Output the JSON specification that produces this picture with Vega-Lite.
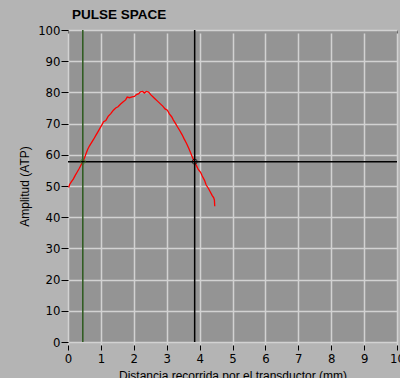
{
  "$schema": "https://vega.github.io/schema/vega-lite/v6.json",
  "width": 329,
  "height": 312,
  "autosize": {"type": "none"},
  "padding": {"left": 68, "top": 30, "right": 3, "bottom": 36},
  "background": "#b4b4b4",
  "title": {
    "text": "PULSE SPACE",
    "anchor": "start",
    "frame": "group",
    "offset": 3,
    "dx": 4,
    "font": "Liberation Sans",
    "fontSize": 13.5,
    "fontWeight": "bold",
    "color": "#000000"
  },
  "config": {
    "view": {"fill": "#949494", "stroke": "#6a6a6a", "strokeWidth": 1},
    "axis": {
      "labelFont": "Liberation Sans Narrow, DejaVu Sans Condensed, Liberation Sans",
      "labelFontSize": 13,
      "labelColor": "#000000",
      "labelOverlap": false,
      "labelFlush": false,
      "titleFont": "Liberation Sans",
      "titleFontSize": 12,
      "titleFontWeight": "normal",
      "titleColor": "#000000",
      "gridColor": "#d2d2d2",
      "gridWidth": 1.5,
      "gridOpacity": 1,
      "tickColor": "#000000",
      "domain": false
    },
    "axisX": {"tickSize": 5, "offset": 3, "labelPadding": 2, "titlePadding": 5},
    "axisY": {"tickSize": 7, "labelPadding": 1, "titlePadding": 6}
  },
  "datasets": {
    "pulse": [
      {"d": 0.02, "a": 49.5}, {"d": 0.05, "a": 50.5}, {"d": 0.1, "a": 51.3},
      {"d": 0.16, "a": 52.2}, {"d": 0.22, "a": 53.4}, {"d": 0.28, "a": 54.5},
      {"d": 0.34, "a": 55.6}, {"d": 0.4, "a": 56.8}, {"d": 0.45, "a": 57.8},
      {"d": 0.5, "a": 59.0}, {"d": 0.55, "a": 60.4}, {"d": 0.6, "a": 61.8},
      {"d": 0.65, "a": 62.8}, {"d": 0.72, "a": 64.0}, {"d": 0.78, "a": 65.0},
      {"d": 0.85, "a": 66.3}, {"d": 0.9, "a": 67.2}, {"d": 0.96, "a": 68.3},
      {"d": 1.03, "a": 69.6}, {"d": 1.08, "a": 70.6}, {"d": 1.15, "a": 71.0},
      {"d": 1.22, "a": 72.3}, {"d": 1.3, "a": 73.2}, {"d": 1.38, "a": 74.3},
      {"d": 1.45, "a": 75.0}, {"d": 1.52, "a": 75.4}, {"d": 1.6, "a": 76.3},
      {"d": 1.68, "a": 77.0}, {"d": 1.75, "a": 77.6}, {"d": 1.8, "a": 78.5},
      {"d": 1.87, "a": 78.3}, {"d": 1.95, "a": 78.6}, {"d": 2.02, "a": 78.7},
      {"d": 2.08, "a": 79.3}, {"d": 2.15, "a": 79.6}, {"d": 2.2, "a": 80.2},
      {"d": 2.27, "a": 80.3}, {"d": 2.32, "a": 79.8}, {"d": 2.38, "a": 80.3},
      {"d": 2.45, "a": 80.1}, {"d": 2.52, "a": 79.2}, {"d": 2.58, "a": 78.6},
      {"d": 2.65, "a": 77.9}, {"d": 2.72, "a": 77.2}, {"d": 2.8, "a": 76.4},
      {"d": 2.88, "a": 75.6}, {"d": 2.95, "a": 74.7}, {"d": 3.02, "a": 74.3},
      {"d": 3.08, "a": 73.1}, {"d": 3.15, "a": 72.2}, {"d": 3.2, "a": 71.2},
      {"d": 3.27, "a": 70.0}, {"d": 3.33, "a": 68.9}, {"d": 3.4, "a": 67.7},
      {"d": 3.47, "a": 66.4}, {"d": 3.53, "a": 65.1}, {"d": 3.6, "a": 63.7},
      {"d": 3.67, "a": 62.1}, {"d": 3.73, "a": 60.6}, {"d": 3.79, "a": 59.0},
      {"d": 3.85, "a": 57.8}, {"d": 3.9, "a": 56.6}, {"d": 3.96, "a": 55.3},
      {"d": 4.03, "a": 54.4}, {"d": 4.08, "a": 53.2}, {"d": 4.15, "a": 51.8},
      {"d": 4.2, "a": 50.3}, {"d": 4.27, "a": 49.2}, {"d": 4.33, "a": 48.0},
      {"d": 4.38, "a": 47.0}, {"d": 4.43, "a": 46.2}, {"d": 4.45, "a": 45.5},
      {"d": 4.46, "a": 43.5}
    ],
    "cursors": [
      {"name": "Cursor 1", "d": 0.45, "a": 57.8},
      {"name": "Cursor 2", "d": 3.85, "a": 57.8}
    ]
  },
  "layer": [
    {
      "data": {"name": "pulse"},
      "mark": {"type": "line", "color": "#ff0000", "strokeWidth": 1.3},
      "encoding": {
        "x": {
          "field": "d", "type": "quantitative",
          "scale": {"domain": [0, 10], "nice": false},
          "axis": {
            "values": [0, 1, 2, 3, 4, 5, 6, 7, 8, 9, 10],
            "tickCount": 11,
            "title": "Distancia recorrida por el transductor (mm)"
          }
        },
        "y": {
          "field": "a", "type": "quantitative",
          "scale": {"domain": [0, 100], "nice": false},
          "axis": {
            "values": [0, 10, 20, 30, 40, 50, 60, 70, 80, 90, 100],
            "tickCount": 11,
            "title": "Amplitud (ATP)"
          }
        }
      }
    },
    {
      "data": {"name": "cursors"},
      "transform": [{"filter": "datum.name === 'Cursor 1'"}],
      "mark": {"type": "rule", "color": "#2d5a1e", "strokeWidth": 1.5},
      "encoding": {
        "x": {
          "field": "d", "type": "quantitative",
          "axis": {
            "values": [0, 1, 2, 3, 4, 5, 6, 7, 8, 9, 10],
            "tickCount": 11,
            "title": "Distancia recorrida por el transductor (mm)"
          }
        }
      }
    },
    {
      "data": {"name": "cursors"},
      "transform": [{"filter": "datum.name === 'Cursor 2'"}],
      "mark": {"type": "rule", "color": "#000000", "strokeWidth": 1.5},
      "encoding": {
        "x": {
          "field": "d", "type": "quantitative",
          "axis": {
            "values": [0, 1, 2, 3, 4, 5, 6, 7, 8, 9, 10],
            "tickCount": 11,
            "title": "Distancia recorrida por el transductor (mm)"
          }
        }
      }
    },
    {
      "data": {"name": "cursors"},
      "transform": [{"filter": "datum.name === 'Cursor 2'"}],
      "mark": {"type": "rule", "color": "#000000", "strokeWidth": 1.5},
      "encoding": {
        "y": {
          "field": "a", "type": "quantitative",
          "axis": {
            "values": [0, 10, 20, 30, 40, 50, 60, 70, 80, 90, 100],
            "tickCount": 11,
            "title": "Amplitud (ATP)"
          }
        }
      }
    },
    {
      "data": {"name": "cursors"},
      "transform": [{"filter": "datum.name === 'Cursor 1'"}],
      "mark": {"type": "point", "shape": "cross", "color": "#3c6e28", "size": 25, "strokeWidth": 1, "filled": false},
      "encoding": {
        "x": {"field": "d", "type": "quantitative"},
        "y": {"field": "a", "type": "quantitative"}
      }
    },
    {
      "data": {"name": "cursors"},
      "transform": [{"filter": "datum.name === 'Cursor 2'"}],
      "mark": {"type": "point", "shape": "circle", "color": "#000000", "size": 25, "strokeWidth": 1, "filled": false},
      "encoding": {
        "x": {"field": "d", "type": "quantitative"},
        "y": {"field": "a", "type": "quantitative"}
      }
    }
  ]
}
